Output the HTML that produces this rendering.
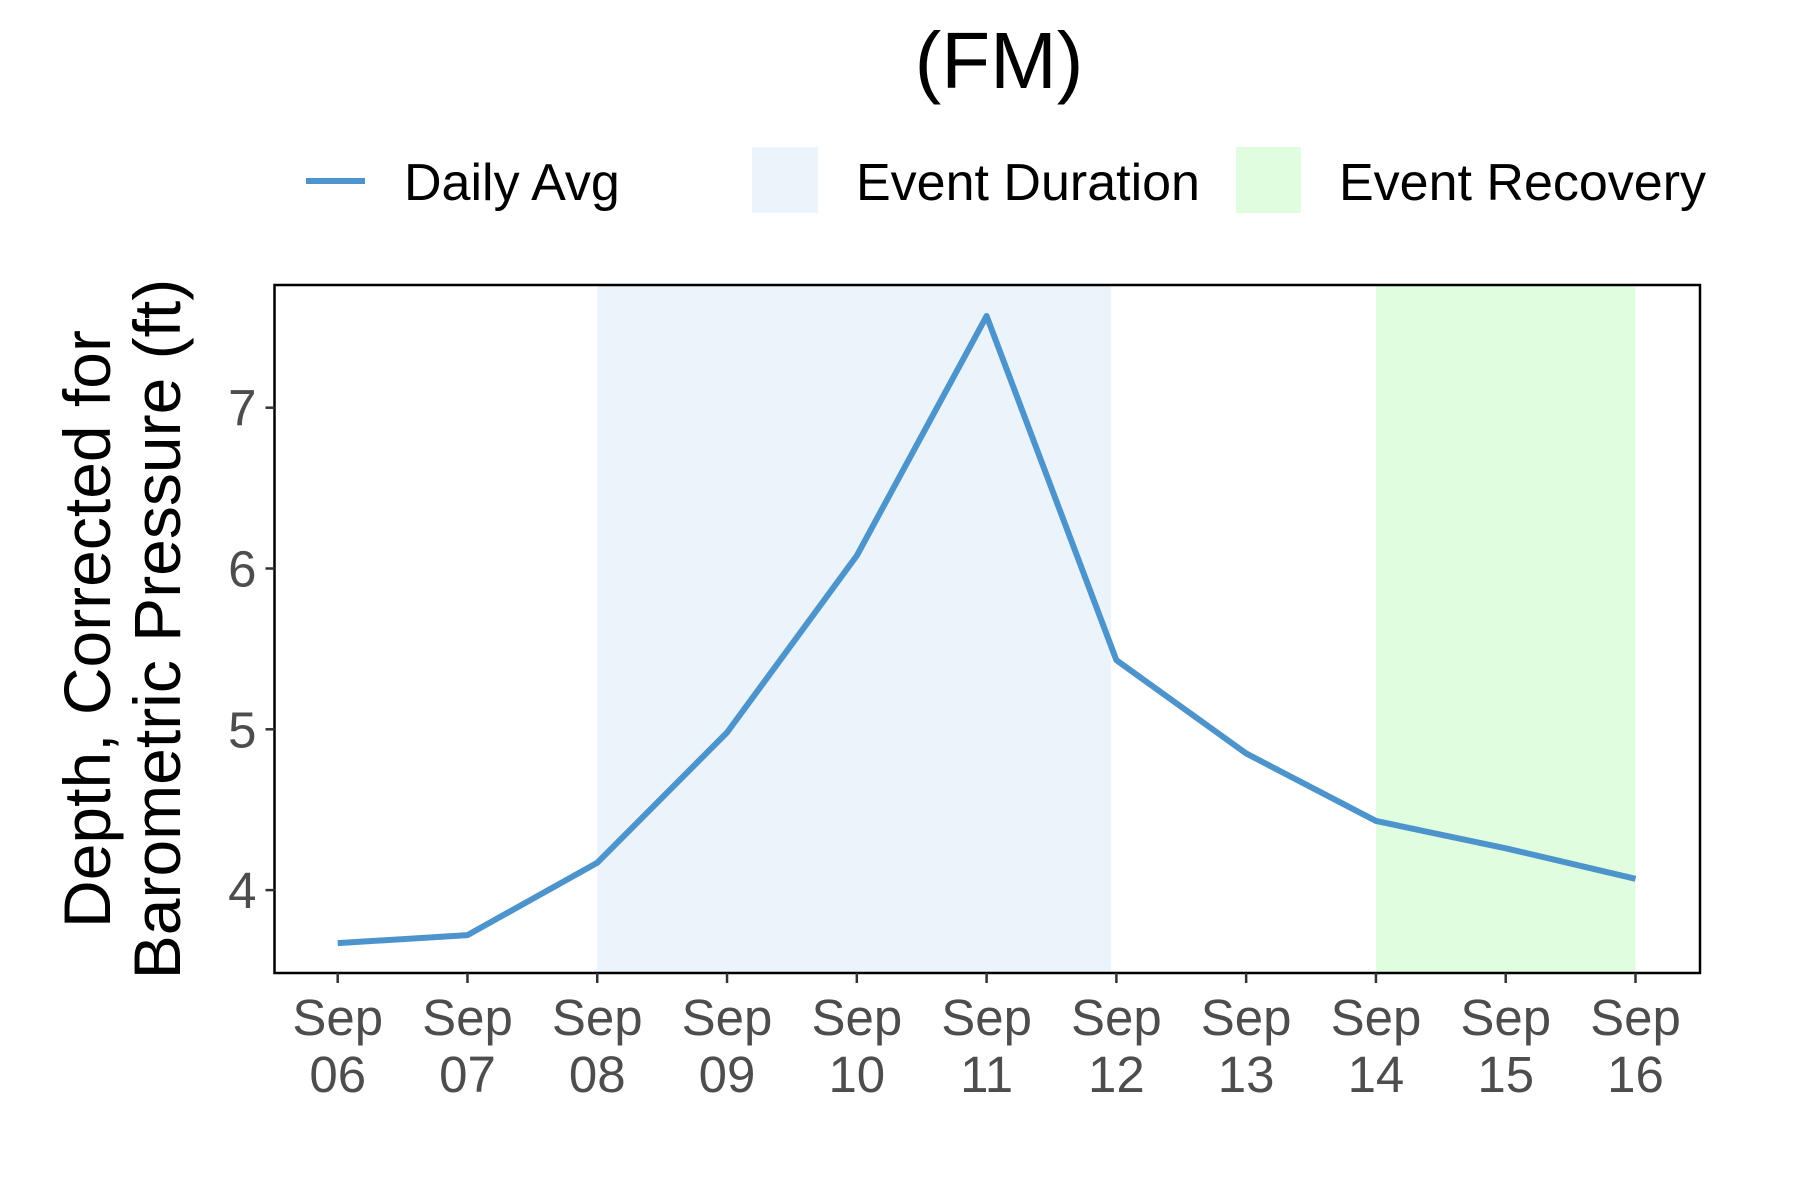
<!DOCTYPE html>
<html><head><meta charset="utf-8"><style>
html,body{margin:0;padding:0;background:#fff;}
svg{display:block;font-family:"Liberation Sans",Arial,sans-serif;}
</style></head><body>
<svg id="chart" width="1800" height="1200" viewBox="0 0 1800 1200">
<text x="999" y="88" font-size="80" text-anchor="middle" fill="#000">(FM)</text>
<g>
<line x1="306" y1="181" x2="365" y2="181" stroke="#4d94cc" stroke-width="6"/>
<text x="404" y="200" font-size="52" fill="#000">Daily Avg</text>
<rect x="752" y="147" width="66" height="66" fill="#ebf3fb"/>
<text x="856" y="200" font-size="52" fill="#000">Event Duration</text>
<rect x="1236" y="147" width="65" height="66" fill="#e0fde0"/>
<text x="1339" y="200" font-size="52" fill="#000">Event Recovery</text>
</g>
<g>
<text transform="translate(110,629) rotate(-90)" font-size="66" text-anchor="middle" fill="#000">Depth, Corrected for</text>
<text transform="translate(180,629) rotate(-90)" font-size="66" text-anchor="middle" fill="#000">Barometric Pressure (ft)</text>
</g>
<g id="plot"></g>
</svg>
<script>
const days = [6,7,8,9,10,11,12,13,14,15,16];
const depth = [3.67,3.72,4.17,4.98,6.08,7.57,5.43,4.85,4.43,4.26,4.07];
const yTicks = [4,5,6,7];
const xLabels = ["06","07","08","09","10","11","12","13","14","15","16"];
const durationSpan = [8,11.96];
const recoverySpan = [14,16];

const L=274.5,R=1700,T=285,B=973;
const xs = d => 337.7 + (d-6)*129.78;
const ys = v => 890.1 - (v-4)*160.8;
const NS="http://www.w3.org/2000/svg";
const g=document.getElementById('plot');
function mk(tag,attrs){const e=document.createElementNS(NS,tag);for(const k in attrs)e.setAttribute(k,attrs[k]);g.appendChild(e);return e;}

let r=mk('rect',{x:xs(durationSpan[0]),y:T,width:xs(durationSpan[1])-xs(durationSpan[0]),height:B-T,fill:'#ebf3fb'});


r=mk('rect',{x:xs(recoverySpan[0]),y:T,width:xs(recoverySpan[1])-xs(recoverySpan[0]),height:B-T,fill:'#e0fde0'});



const pts=days.map((d,i)=>xs(d)+','+ys(depth[i])).join(' ');
const pl=mk('polyline',{points:pts,fill:'none',stroke:'#4d94cc','stroke-width':6,'stroke-linejoin':'round'});



const fr=mk('rect',{x:L,y:T,width:R-L,height:B-T,fill:'none',stroke:'#000','stroke-width':2.5});



yTicks.forEach(v=>{
  const tk=mk('line',{x1:L-9,x2:L,y1:ys(v),y2:ys(v),stroke:'#333','stroke-width':2.5});
  
  
  const t=mk('text',{x:L-18,y:ys(v)+18,'font-size':51,'text-anchor':'end',fill:'#4d4d4d'});
  t.textContent=v;
  
  
});
days.forEach((d,i)=>{
  const tk=mk('line',{x1:xs(d),x2:xs(d),y1:B,y2:B+10,stroke:'#333','stroke-width':2.5});
  
  
  const t=mk('text',{x:xs(d),y:B+62,'font-size':51,'text-anchor':'middle',fill:'#4d4d4d'});
  t.textContent='Sep';
  
  
  const t2=mk('text',{x:xs(d),y:B+119,'font-size':51,'text-anchor':'middle',fill:'#4d4d4d'});
  t2.textContent=xLabels[i];
  
  
});
</script>
</body></html>
